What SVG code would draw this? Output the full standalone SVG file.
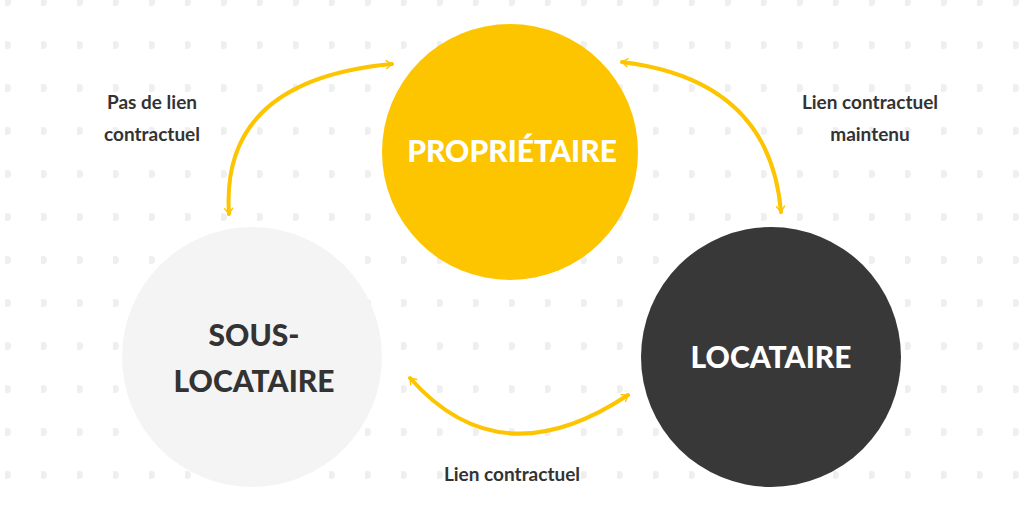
<svg xmlns="http://www.w3.org/2000/svg" width="1024" height="512" viewBox="0 0 1024 512">
<defs>
<pattern id="dots" x="5" y="2" width="36" height="43" patternUnits="userSpaceOnUse"><circle cx="2" cy="0" r="4" fill="#efefef"/><circle cx="2" cy="43" r="4" fill="#efefef"/></pattern>
<marker id="ah" viewBox="0 0 20 20" refX="16" refY="10" markerWidth="8" markerHeight="8" markerUnits="userSpaceOnUse" orient="auto-start-reverse" style="overflow:visible"><path d="M2 0 L16 10 L2 20" fill="none" stroke="#fdc500" stroke-width="3.5" stroke-linecap="round" stroke-linejoin="round"/></marker>
<style>
.lbl{font-family:"Lato","Open Sans",sans-serif;font-weight:bold;font-size:19px;fill:#333;text-anchor:middle}
.big{font-family:"Lato","Open Sans",sans-serif;font-weight:900;font-size:30px;text-anchor:middle}
.arc{fill:none;stroke:#fdc500;stroke-width:4;stroke-linecap:round;marker-start:url(#ah);marker-end:url(#ah)}
</style>
</defs>
<rect width="1024" height="512" fill="#fff"/>
<rect width="1024" height="512" fill="url(#dots)"/>
<g id="proprietaire"><circle cx="510" cy="152" r="128" fill="#fdc500"/><text class="big" x="512" y="162" fill="#fff">PROPRIÉTAIRE</text></g>
<g id="sous-locataire"><circle cx="252" cy="357" r="130" fill="#f4f4f4"/><text class="big" x="254" y="346" fill="#333">SOUS-</text><text class="big" x="254" y="392" fill="#333">LOCATAIRE</text></g>
<g id="locataire"><circle cx="771" cy="357" r="130" fill="#383838"/><text class="big" x="771" y="368" fill="#fff">LOCATAIRE</text></g>
<g id="connectors">
<path class="arc" d="M229 214 Q220 80 392 64"/>
<path class="arc" d="M622 62 Q770 80 781 212"/>
<path class="arc" d="M410 378 Q500 480 628 395"/>
</g>
<g id="labels">
<text class="lbl" x="152" y="109">Pas de lien</text><text class="lbl" x="152" y="141">contractuel</text>
<text class="lbl" x="870" y="109">Lien contractuel</text><text class="lbl" x="870" y="141">maintenu</text>
<text class="lbl" x="512" y="481">Lien contractuel</text>
</g>
</svg>
